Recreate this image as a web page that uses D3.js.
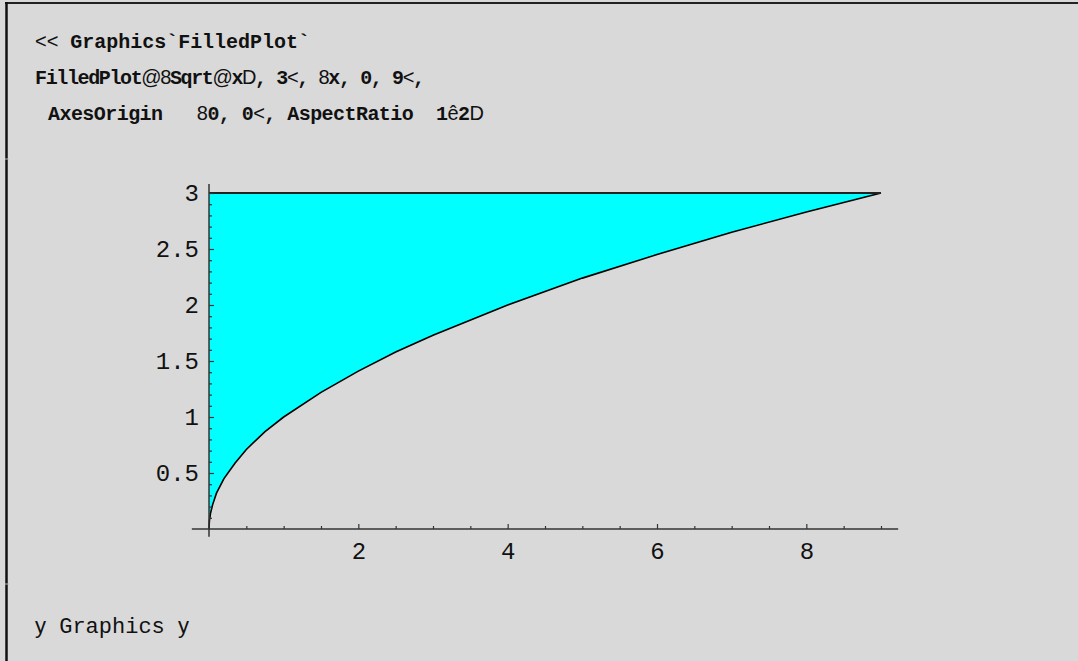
<!DOCTYPE html>
<html>
<head>
<meta charset="utf-8">
<script src="https://cdn.jsdelivr.net/npm/d3@7"></script>
<style>
  html, body { margin: 0; padding: 0; background: #d9d9d9; }
  svg { display: block; }
  .mono { font-family: "Liberation Mono", "DejaVu Sans Mono", monospace; }
</style>
</head>
<body>
<div id="chart"></div>
<script>
// curve y = Sqrt[x]
var curveX = [0, 0.005, 0.02, 0.05, 0.1, 0.2, 0.35, 0.5, 0.75, 1, 1.5, 2, 2.5, 3, 4, 5, 6, 7, 8, 9];
var curveY = [0, 0.07, 0.14, 0.22, 0.32, 0.45, 0.59, 0.71, 0.87, 1, 1.22, 1.41, 1.58, 1.73, 2, 2.24, 2.45, 2.65, 2.83, 3];
var topValue = 3;
var xTicks = [2, 4, 6, 8];
var yTicks = [0.5, 1, 1.5, 2, 2.5, 3];
var xTickLabels = ["2", "4", "6", "8"];
var yTickLabels = ["0.5", "1", "1.5", "2", "2.5", "3"];

var width = 1078, height = 661;

var svg = d3.select("#chart").append("svg")
    .attr("width", width)
    .attr("height", height);

svg.append("rect").attr("width", width).attr("height", height).attr("fill", "#d9d9d9");

// cell frame (top and left only)
svg.append("line").attr("x1", 5).attr("x2", width).attr("y1", 3).attr("y2", 3)
    .attr("stroke", "#222").attr("stroke-width", 2);
svg.append("line").attr("x1", 6.5).attr("x2", 6.5).attr("y1", 2).attr("y2", height)
    .attr("stroke", "#111").attr("stroke-width", 2.5);
[159, 584].forEach(function(y) {
    svg.append("line").attr("x1", 5).attr("x2", 9).attr("y1", y).attr("y2", y)
        .attr("stroke", "#bbb").attr("stroke-width", 1);
});

// input code lines, mixed fonts like the notebook
var codeLines = [
    { x: 35, y: 48, len: 275, parts: [["<<", 0], [" Graphics`FilledPlot`", 1]] },
    { x: 35, y: 84, len: 390, parts: [["FilledPlot", 1], ["@", 0], ["8", 0], ["Sqrt", 1], ["@", 0], ["x", 1], ["D", 0],
        [", 3", 1], ["<", 0], [", ", 1], ["8", 0], ["x, 0, 9", 1], ["<", 0], [",", 1]] },
    { x: 48, y: 120, len: 436, parts: [["AxesOrigin", 1], ["   ", 1], ["8", 0], ["0, 0", 1], ["<", 0], [", AspectRatio  1", 1],
        ["ê", 0], ["2", 1], ["D", 0]] }
];

codeLines.forEach(function(l) {
    var t = svg.append("text").attr("class", "mono")
        .attr("x", l.x).attr("y", l.y)
        .attr("font-size", 20)
        .attr("fill", "#111")
        .attr("xml:space", "preserve")
        .style("white-space", "pre")
        .attr("textLength", l.len)
        .attr("lengthAdjust", "spacing");
    l.parts.forEach(function(p) {
        t.append("tspan").text(p[0])
            .attr("font-weight", p[1] ? "bold" : "normal")
            .attr("font-family", p[1] ? null : "'Liberation Sans', sans-serif");
    });
});

// plot
var x = d3.scaleLinear().domain([0, 9]).range([209, 881]);
var y = d3.scaleLinear().domain([0, 3]).range([529, 193]);

var pts = curveX.map(function(d, i) { return [d, curveY[i]]; });

var area = d3.area()
    .x(function(d) { return x(d[0]); })
    .y0(function() { return y(topValue); })
    .y1(function(d) { return y(d[1]); });

svg.append("path").datum(pts)
    .attr("d", area)
    .attr("fill", "#00ffff");

svg.append("path").datum(pts)
    .attr("d", d3.line().x(function(d) { return x(d[0]); }).y(function(d) { return y(d[1]); }))
    .attr("fill", "none").attr("stroke", "#000").attr("stroke-width", 1.6);

svg.append("line")
    .attr("x1", x(0)).attr("x2", x(9)).attr("y1", y(topValue)).attr("y2", y(topValue))
    .attr("stroke", "#222").attr("stroke-width", 2.2);

// axes lines
svg.append("line").attr("x1", x(-0.23)).attr("x2", x(9.23)).attr("y1", y(0)).attr("y2", y(0))
    .attr("stroke", "#333").attr("stroke-width", 1.5);
svg.append("line").attr("x1", x(0)).attr("x2", x(0)).attr("y1", y(3.08)).attr("y2", y(-0.07))
    .attr("stroke", "#333").attr("stroke-width", 1.5);

// minor ticks
var xMinor = d3.range(1, 19).map(function(i) { return i * 0.5; }).filter(function(v) { return v % 2 !== 0; });
var yMinor = d3.range(1, 31).map(function(i) { return i / 10; }).filter(function(v) { return Math.round(v * 10) % 5 !== 0; });

var gxm = svg.append("g").attr("transform", "translate(0," + y(0) + ")")
    .call(d3.axisBottom(x).tickValues(xMinor).tickSize(-3).tickFormat(""));
var gym = svg.append("g").attr("transform", "translate(" + x(0) + ",0)")
    .call(d3.axisLeft(y).tickValues(yMinor).tickSize(-3).tickFormat(""));

// major ticks
var gx = svg.append("g").attr("transform", "translate(0," + y(0) + ")")
    .call(d3.axisBottom(x).tickValues(xTicks).tickSize(-5).tickPadding(13)
        .tickFormat(function(d, i) { return xTickLabels[i]; }));
var gy = svg.append("g").attr("transform", "translate(" + x(0) + ",0)")
    .call(d3.axisLeft(y).tickValues(yTicks).tickSize(-5).tickPadding(10)
        .tickFormat(function(d, i) { return yTickLabels[i]; }));

[gxm, gym, gx, gy].forEach(function(g) {
    g.select(".domain").remove();
    g.selectAll(".tick line").attr("stroke", "#333").attr("stroke-width", 1.2);
    g.selectAll("text").attr("class", "mono").attr("font-size", 24).attr("fill", "#111");
});
gx.selectAll("text").attr("font-family", null);
gy.selectAll("text").attr("font-family", null);

// output line
var out = svg.append("text").attr("class", "mono")
    .attr("x", 35).attr("y", 633)
    .attr("font-size", 22).attr("fill", "#111")
    .attr("xml:space", "preserve").style("white-space", "pre");
out.append("tspan").text("y").attr("font-family", "'Liberation Sans', sans-serif");
out.append("tspan").text(" Graphics ");
out.append("tspan").text("y").attr("font-family", "'Liberation Sans', sans-serif");
</script>
</body>
</html>
